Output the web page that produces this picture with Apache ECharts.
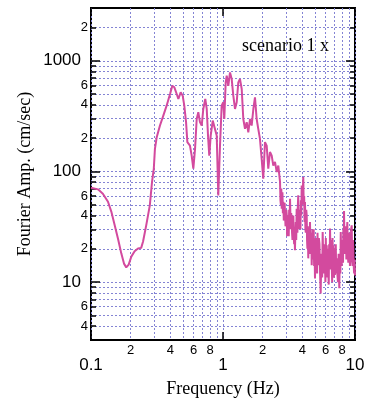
<!DOCTYPE html>
<html>
<head>
<meta charset="utf-8">
<script src="https://cdn.jsdelivr.net/npm/echarts@6/dist/echarts.min.js"></script>
<style>
  html, body { margin: 0; padding: 0; background: #fff; }
  #chart { width: 371px; height: 403px; }
</style>
</head>
<body>
<div id="chart"></div>
<script>
// spectrum: frequency (Hz) and Fourier amplitude (cm/sec)
// low-frequency part (0.1 - 2.7 Hz)
const freqLow = [
  0.100, 0.113, 0.123, 0.1345, 0.1425, 0.1512, 0.160, 0.1696, 0.1778, 0.185,
  0.193, 0.202, 0.214, 0.227, 0.240, 0.248, 0.262, 0.279, 0.290, 0.299,
  0.305, 0.315, 0.333, 0.353, 0.374, 0.397, 0.413, 0.428, 0.446, 0.459,
  0.478, 0.495, 0.509, 0.525, 0.537, 0.562, 0.579, 0.596, 0.614, 0.632,
  0.650, 0.669, 0.690, 0.709, 0.734, 0.753, 0.770, 0.787, 0.807, 0.836,
  0.865, 0.896, 0.921, 0.949, 0.977, 1.005, 1.023, 1.048, 1.067, 1.097,
  1.130, 1.164, 1.197, 1.233, 1.270, 1.306, 1.345, 1.386, 1.425, 1.468,
  1.512, 1.555, 1.602, 1.649, 1.698, 1.747, 1.799, 1.850, 1.906, 1.963,
  2.018, 2.080, 2.143, 2.203, 2.270, 2.339, 2.404, 2.477, 2.553, 2.624
];
const ampLow = [
  71.3, 68.9, 63.0, 53.3, 43.4, 32.6, 24.8, 18.2, 14.7, 13.6,
  14.4, 17.0, 19.0, 20.1, 20.4, 23.3, 32.6, 49.4, 80.7, 105.7,
  160, 205, 260, 320, 393, 501, 595, 576, 501, 452,
  519, 484, 393, 279, 184, 171, 139, 106, 160, 298,
  343, 279, 260, 367, 452, 367, 211, 139, 211, 288,
  288, 211, 60.8, 171, 393, 422, 298, 638, 733, 595,
  786, 684, 484, 367, 422, 638, 684, 556, 298, 243,
  279, 226, 298, 260, 367, 468, 298, 243, 197, 130,
  86, 184, 171, 106, 150, 139, 113, 122, 98.8, 113
];
// noisy high-frequency part (2.7 - 10 Hz)
const freqHigh = [
  2.704, 2.724, 2.745, 2.765, 2.786, 2.803, 2.820, 2.842, 2.864, 2.887,
  2.910, 2.930, 2.950, 2.975, 3.000, 3.020, 3.041, 3.060, 3.080, 3.103,
  3.126, 3.148, 3.170, 3.195, 3.221, 3.240, 3.260, 3.285, 3.311, 3.335,
  3.360, 3.385, 3.410, 3.435, 3.460, 3.484, 3.508, 3.534, 3.560, 3.587,
  3.614, 3.637, 3.660, 3.687, 3.715, 3.742, 3.770, 3.800, 3.830, 3.860,
  3.890, 3.918, 3.946, 3.973, 4.000, 4.028, 4.056, 4.088, 4.120, 4.150,
  4.180, 4.210, 4.240, 4.273, 4.306, 4.333, 4.360, 4.393, 4.426, 4.458,
  4.490, 4.525, 4.560, 4.595, 4.630, 4.665, 4.699, 4.730, 4.760, 4.795,
  4.831, 4.865, 4.900, 4.938, 4.977, 5.013, 5.050, 5.089, 5.128, 5.164,
  5.200, 5.236, 5.272, 5.326, 5.380, 5.437, 5.495, 5.542, 5.590, 5.640,
  5.689, 5.750, 5.810, 5.868, 5.925, 5.968, 6.010, 6.058, 6.105, 6.148,
  6.190, 6.235, 6.280, 6.325, 6.370, 6.420, 6.471, 6.520, 6.570, 6.620,
  6.668, 6.714, 6.760, 6.808, 6.855, 6.903, 6.950, 7.000, 7.047, 7.098,
  7.150, 7.205, 7.261, 7.345, 7.430, 7.515, 7.603, 7.650, 7.700, 7.750,
  7.798, 7.865, 7.930, 8.000, 8.072, 8.116, 8.160, 8.210, 8.260, 8.330,
  8.400, 8.475, 8.550, 8.600, 8.650, 8.700, 8.750, 8.825, 8.900, 8.980,
  9.060, 9.155, 9.250, 9.345, 9.440, 9.510, 9.580, 9.645, 9.710, 9.780,
  9.850, 9.925, 10.00
];
const ampHigh = [
  80.7, 55, 50, 70, 46.1, 60, 65, 42, 53.3, 36,
  38, 52, 50, 32, 34, 45, 40.2, 26, 28, 40,
  32.6, 26, 45, 36, 56.8, 40, 30, 42, 37.5, 28,
  24, 38, 40, 26, 22, 30, 19.4, 28, 35, 24,
  46.1, 32, 28, 48, 60.8, 38, 30, 45, 40.2, 30,
  55, 40, 74.8, 55, 50, 70, 89.1, 50, 60, 35,
  53.0, 30, 28, 45, 40.2, 24, 20, 32, 16.4, 26,
  30, 18, 35.0, 22, 18, 28, 14.2, 22, 30, 16,
  24.8, 30, 14, 20, 10.8, 18, 25, 13, 18.8, 12,
  28, 16, 14.2, 25, 22, 12, 7.9, 14, 18, 11,
  28.4, 15, 12, 22, 14.2, 10, 25, 13, 21.5, 14,
  11, 20, 12.4, 9.5, 22, 14, 30.5, 18, 13, 24,
  14.2, 10, 25, 15, 21.5, 11, 12, 20, 11.6, 16,
  22, 12, 16.4, 12, 10, 18, 8.8, 14, 18, 12,
  28.4, 17, 14, 24, 21.5, 15, 30, 20, 44, 18,
  20, 32, 28.4, 16, 18, 30, 35.0, 18, 15, 28,
  24.8, 14, 16, 30, 32.6, 18, 14, 24, 20.1, 14,
  12, 16, 11.5
];

// tick positions
const xMinor = [0.2, 0.3, 0.4, 0.5, 0.6, 0.7, 0.8, 0.9, 2, 3, 4, 5, 6, 7, 8, 9];
const xMinorLabels = [0.2, 0.4, 0.6, 0.8, 2, 4, 6, 8];
const xMajor = [0.1, 1, 10];
const yMinor = [4, 5, 6, 7, 8, 9, 20, 30, 40, 50, 60, 70, 80, 90,
  200, 300, 400, 500, 600, 700, 800, 900, 2000];
const yGrid = yMinor.concat([10, 100, 1000]);
const yMinorLabels = [4, 6, 20, 40, 60, 200, 400, 600, 2000];
const yMajor = [10, 100, 1000];

const freq = freqLow.concat(freqHigh);
const amp = ampLow.concat(ampHigh);

const lead = v => String(Math.round(v / Math.pow(10, Math.floor(Math.log10(v) + 1e-9))));
const plain = v => String(v);
const font = 'Liberation Sans';
const serif = 'Liberation Serif';
const gridLine = { show: true, lineStyle: { color: '#8484d4', width: 1, type: [2, 2] } };

const chart = echarts.init(document.getElementById('chart'));

const logX = (extra) => Object.assign({
  type: 'log', logBase: 10, min: 0.1, max: 10, gridIndex: 0,
  axisLine: { show: false }, splitLine: { show: false }
}, extra);
const logY = (extra) => Object.assign({
  type: 'log', logBase: 10, min: 3, max: 3000, gridIndex: 0,
  axisLine: { show: false }, splitLine: { show: false }
}, extra);

chart.setOption({
  animation: false,
  grid: {
    left: 91, top: 8, width: 264, height: 333,
    show: true, borderColor: '#000', borderWidth: 2, backgroundColor: 'transparent'
  },
  xAxis: [
    logX({
      position: 'bottom',
      axisTick: { show: false, customValues: xMinor.concat(xMajor) },
      splitLine: gridLine,
      axisLabel: {
        customValues: xMinorLabels, formatter: lead, margin: 4,
        fontFamily: font, fontSize: 13, color: '#000'
      },
      name: 'Frequency (Hz)', nameLocation: 'middle', nameGap: 40,
      nameTextStyle: { fontFamily: serif, fontSize: 18, color: '#000' }
    }),
    logX({
      position: 'bottom',
      axisTick: { show: true, inside: true, length: 8, customValues: xMajor,
        lineStyle: { color: '#000', width: 1.5 } },
      axisLabel: {
        customValues: xMajor, formatter: plain, margin: 17,
        fontFamily: font, fontSize: 17, color: '#000'
      }
    }),
    logX({
      position: 'top',
      axisTick: { show: true, inside: true, length: 8, customValues: xMajor,
        lineStyle: { color: '#000', width: 1.5 } },
      axisLabel: { show: false }
    })
  ],
  yAxis: [
    logY({
      position: 'left',
      axisTick: { show: true, inside: true, length: 5, customValues: yMinor,
        lineStyle: { color: '#000', width: 1.5 } },
      axisLabel: {
        customValues: yMinorLabels, formatter: lead, margin: 3,
        fontFamily: font, fontSize: 13, color: '#000'
      },
      name: 'Fourier Amp. (cm/sec)', nameLocation: 'middle', nameGap: 57,
      nameTextStyle: { fontFamily: serif, fontSize: 18, color: '#000' }
    }),
    logY({
      position: 'left',
      axisTick: { show: false, customValues: yGrid },
      splitLine: gridLine,
      axisLabel: { show: false }
    }),
    logY({
      position: 'left',
      axisTick: { show: true, inside: true, length: 9, customValues: yMajor,
        lineStyle: { color: '#000', width: 1.5 } },
      axisLabel: {
        customValues: yMajor, formatter: plain, margin: 10,
        fontFamily: font, fontSize: 17, color: '#000'
      }
    }),
    logY({
      position: 'right',
      axisTick: { show: true, inside: true, length: 5, customValues: yMinor,
        lineStyle: { color: '#000', width: 1.5 } },
      axisLabel: { show: false }
    }),
    logY({
      position: 'right',
      axisTick: { show: true, inside: true, length: 9, customValues: yMajor,
        lineStyle: { color: '#000', width: 1.5 } },
      axisLabel: { show: false }
    })
  ],
  graphic: [{
    type: 'text', left: 242, top: 37,
    style: { text: 'scenario 1 x', fontFamily: serif, fontSize: 18, fill: '#000' }
  }],
  series: [{
    type: 'line',
    xAxisIndex: 0, yAxisIndex: 0,
    data: freq.map((f, i) => [f, amp[i]]),
    showSymbol: false,
    lineStyle: { color: '#d34a9e', width: 2 },
    z: 5
  }]
});
</script>
</body>
</html>
